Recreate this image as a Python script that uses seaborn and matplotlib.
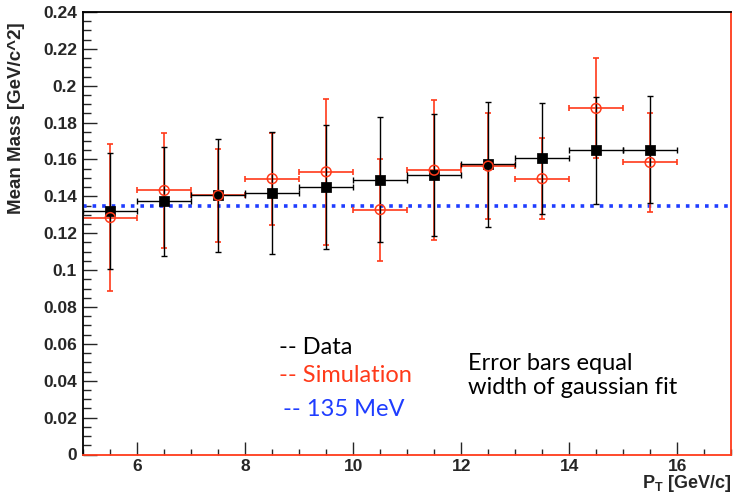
import numpy as np
import pandas as pd
import matplotlib
matplotlib.use('Agg')
import matplotlib.pyplot as plt
import seaborn as sns
from matplotlib.ticker import MultipleLocator, FormatStrFormatter

# pT bin centres and half widths
pt = [5.5, 6.5, 7.5, 8.5, 9.5, 10.5, 11.5, 12.5, 13.5, 14.5, 15.5]
pt_err = [0.5] * 11

data_mass = [0.132, 0.1373, 0.1405, 0.142, 0.145, 0.149, 0.1515, 0.1575, 0.1607, 0.1649, 0.1654]
data_err = [0.0316, 0.0297, 0.0305, 0.033, 0.0337, 0.034, 0.033, 0.0339, 0.030, 0.0288, 0.029]

sim_mass = [0.1285, 0.1432, 0.1405, 0.1496, 0.1533, 0.1328, 0.1542, 0.1564, 0.1496, 0.1877, 0.1584]
sim_err = [0.040, 0.031, 0.0253, 0.025, 0.0395, 0.0276, 0.038, 0.0289, 0.0218, 0.0271, 0.027]

pi0_mass = 0.135

red = '#ff3a1a'
blue = '#1f3dff'

sns.set_style('ticks')
plt.rcParams['font.family'] = ['Liberation Sans', 'DejaVu Sans']
plt.rcParams['font.weight'] = 'bold'

df = pd.DataFrame({'pt': pt + pt,
                   'mass': data_mass + sim_mass,
                   'sample': ['Data'] * 11 + ['Simulation'] * 11})

fig = plt.figure(figsize=(7.34, 5.0), dpi=100)
ax = fig.add_axes([0.1135, 0.091, 0.8825, 0.885])

ax.axhline(pi0_mass, color=blue, linestyle=':', linewidth=2.6, zorder=1)

ax.errorbar(pt, sim_mass, xerr=pt_err, yerr=sim_err, fmt='none',
            ecolor=red, elinewidth=1.2, capsize=2.5, capthick=1.2, zorder=2)
ax.errorbar(pt, data_mass, xerr=pt_err, yerr=data_err, fmt='none',
            ecolor='black', elinewidth=1.0, capsize=2.5, capthick=1.0, zorder=3)

sns.scatterplot(data=df[df['sample'] == 'Data'], x='pt', y='mass', ax=ax,
                marker='s', s=45, color='black', edgecolor='black', zorder=4, legend=False)
sns.scatterplot(data=df[df['sample'] == 'Simulation'], x='pt', y='mass', ax=ax,
                marker='o', s=50, facecolor='none', edgecolor=red, linewidth=1.1,
                zorder=5, legend=False)

ax.set_xlim(5, 17)
ax.set_ylim(0, 0.24)
ax.xaxis.set_major_locator(MultipleLocator(2))
ax.xaxis.set_minor_locator(MultipleLocator(0.5))
ax.yaxis.set_major_locator(MultipleLocator(0.02))
ax.yaxis.set_minor_locator(MultipleLocator(0.005))
ax.yaxis.set_major_formatter(FormatStrFormatter('%g'))
ax.tick_params(axis='both', which='both', direction='in', top=False, right=False,
               labelsize=12.5)
ax.tick_params(axis='x', which='major', length=9.4, width=1, pad=3)
ax.tick_params(axis='x', which='minor', length=4.5, width=1)
ax.tick_params(axis='y', which='major', length=9.8, width=1, pad=4.5)
ax.tick_params(axis='y', which='minor', length=5.5, width=1)
plt.setp(ax.get_xticklabels() + ax.get_yticklabels(), fontweight='bold',
         family='Liberation Sans')

for side in ['top', 'left']:
    ax.spines[side].set_color('black')
for side in ['right', 'bottom']:
    ax.spines[side].set_color(red)
for side in ax.spines:
    ax.spines[side].set_visible(True)
    ax.spines[side].set_linewidth(1.3)

ax.set_xlabel('')
ax.set_ylabel('Mean Mass [GeV/c^2]', fontsize=13.5, fontweight='bold')
ax.yaxis.set_label_coords(-0.09, 0.76)
fig.text(0.997, 0.012, r'P$_\mathregular{T}$ [GeV/c]', ha='right', va='bottom',
         fontsize=13, fontweight='bold')

txt = dict(fontsize=17, family=['Lato', 'DejaVu Sans'], fontweight='normal',
           va='center', ha='left')
fig.text(0.380, 0.304, '-- Data', color='black', **txt)
fig.text(0.380, 0.248, '-- Simulation', color=red, **txt)
fig.text(0.385, 0.180, '-- 135 MeV', color=blue, **txt)
fig.text(0.637, 0.274, 'Error bars equal', color='black', **txt)
fig.text(0.637, 0.226, 'width of gaussian fit', color='black', **txt)

fig.savefig('out.png', dpi=100)
